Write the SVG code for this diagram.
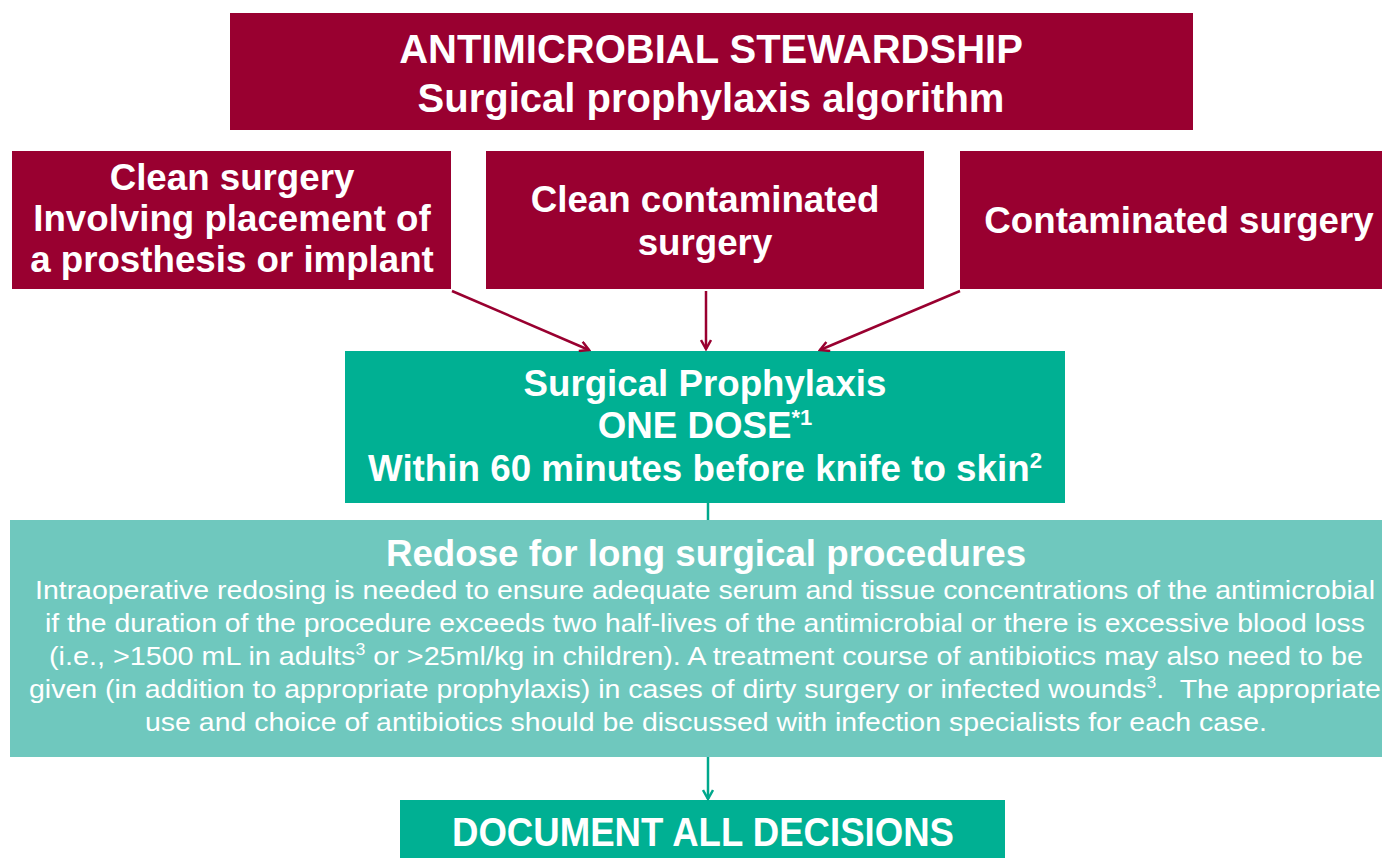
<svg xmlns="http://www.w3.org/2000/svg" width="1382" height="858" viewBox="0 0 1382 858">
<style>
.red{fill:#990030}
.grn{fill:#00B093}
.lt{fill:#6FC8BE}
.t{font-family:"Liberation Sans",Arial,sans-serif;fill:#fff;text-anchor:middle}
.b{font-weight:bold}
.h1{font-size:40px}
.h2{font-size:36.7px}
.body{font-size:26px}
.conR{stroke:#990030;stroke-width:2.5;fill:none}
.conG{stroke:#00A88C;stroke-width:2.5;fill:none}
</style>
<defs>
<marker id="arR" markerWidth="12" markerHeight="12" refX="10" refY="6" orient="auto" markerUnits="userSpaceOnUse">
<path d="M1,1 L10,6 L1,11" fill="none" stroke="#990030" stroke-width="2.5"/>
</marker>
<marker id="arG" markerWidth="12" markerHeight="12" refX="10" refY="6" orient="auto" markerUnits="userSpaceOnUse">
<path d="M1,1 L10,6 L1,11" fill="none" stroke="#00A88C" stroke-width="2.5"/>
</marker>
</defs>
<rect width="1382" height="858" fill="#fff"/>
<g id="title">
<rect class="red" x="230" y="13" width="963" height="117"/>
<text class="t b h1" x="711" y="63">ANTIMICROBIAL STEWARDSHIP</text>
<text class="t b h1" x="711" y="112">Surgical prophylaxis algorithm</text>
</g>
<g id="clean">
<rect class="red" x="12" y="151" width="439" height="138"/>
<text class="t b h2" x="232" y="190">Clean surgery</text>
<text class="t b h2" x="232" y="231">Involving placement of</text>
<text class="t b h2" x="232" y="272">a prosthesis or implant</text>
</g>
<g id="cleancont">
<rect class="red" x="486" y="151" width="438" height="138"/>
<text class="t b h2" x="705" y="212">Clean contaminated</text>
<text class="t b h2" x="705" y="255">surgery</text>
</g>
<g id="cont">
<rect class="red" x="960" y="151" width="422" height="138"/>
<text class="t b h2" x="1179" y="233">Contaminated surgery</text>
</g>
<g id="prophylaxis">
<rect class="grn" x="345" y="351" width="720" height="152"/>
<text class="t b h2" x="705" y="396">Surgical Prophylaxis</text>
<text class="t b h2" x="705" y="438">ONE DOSE<tspan font-size="22" dy="-13">*1</tspan></text>
<text class="t b h2" x="705" y="481" textLength="674" lengthAdjust="spacingAndGlyphs">Within 60 minutes before knife to skin<tspan font-size="22" dy="-13">2</tspan></text>
</g>
<g id="redose">
<rect class="lt" x="10" y="520" width="1372" height="237"/>
<text class="t b" font-size="36.7" x="706" y="566">Redose for long surgical procedures</text>
<text class="t body" x="705" y="599" textLength="1340" lengthAdjust="spacingAndGlyphs">Intraoperative redosing is needed to ensure adequate serum and tissue concentrations of the antimicrobial</text>
<text class="t body" x="705" y="632" textLength="1320" lengthAdjust="spacingAndGlyphs">if the duration of the procedure exceeds two half-lives of the antimicrobial or there is excessive blood loss</text>
<text class="t body" x="706" y="665" textLength="1314" lengthAdjust="spacingAndGlyphs">(i.e., &gt;1500 mL in adults<tspan font-size="16" dy="-10">3</tspan><tspan dy="10"> or &gt;25ml/kg in children). A treatment course of antibiotics may also need to be</tspan></text>
<text class="t body" x="705" y="698" textLength="1352" lengthAdjust="spacingAndGlyphs">given (in addition to appropriate prophylaxis) in cases of dirty surgery or infected wounds<tspan font-size="16" dy="-10">3</tspan><tspan dy="10">.&#160; The appropriate</tspan></text>
<text class="t body" x="706" y="731" textLength="1122" lengthAdjust="spacingAndGlyphs">use and choice of antibiotics should be discussed with infection specialists for each case.</text>
</g>
<g id="document">
<rect class="grn" x="400" y="800" width="605" height="70"/>
<text class="t b h1" x="703" y="846" textLength="502" lengthAdjust="spacingAndGlyphs">DOCUMENT ALL DECISIONS</text>
</g>
<g id="connectors">
<line class="conR" x1="452" y1="291" x2="589" y2="350" marker-end="url(#arR)"/>
<line class="conR" x1="706" y1="291" x2="706" y2="349" marker-end="url(#arR)"/>
<line class="conR" x1="960" y1="291" x2="820" y2="350" marker-end="url(#arR)"/>
<line class="conG" x1="708" y1="503" x2="708" y2="520"/>
<line class="conG" x1="708" y1="757" x2="708" y2="799" marker-end="url(#arG)"/>
</g>
</svg>
